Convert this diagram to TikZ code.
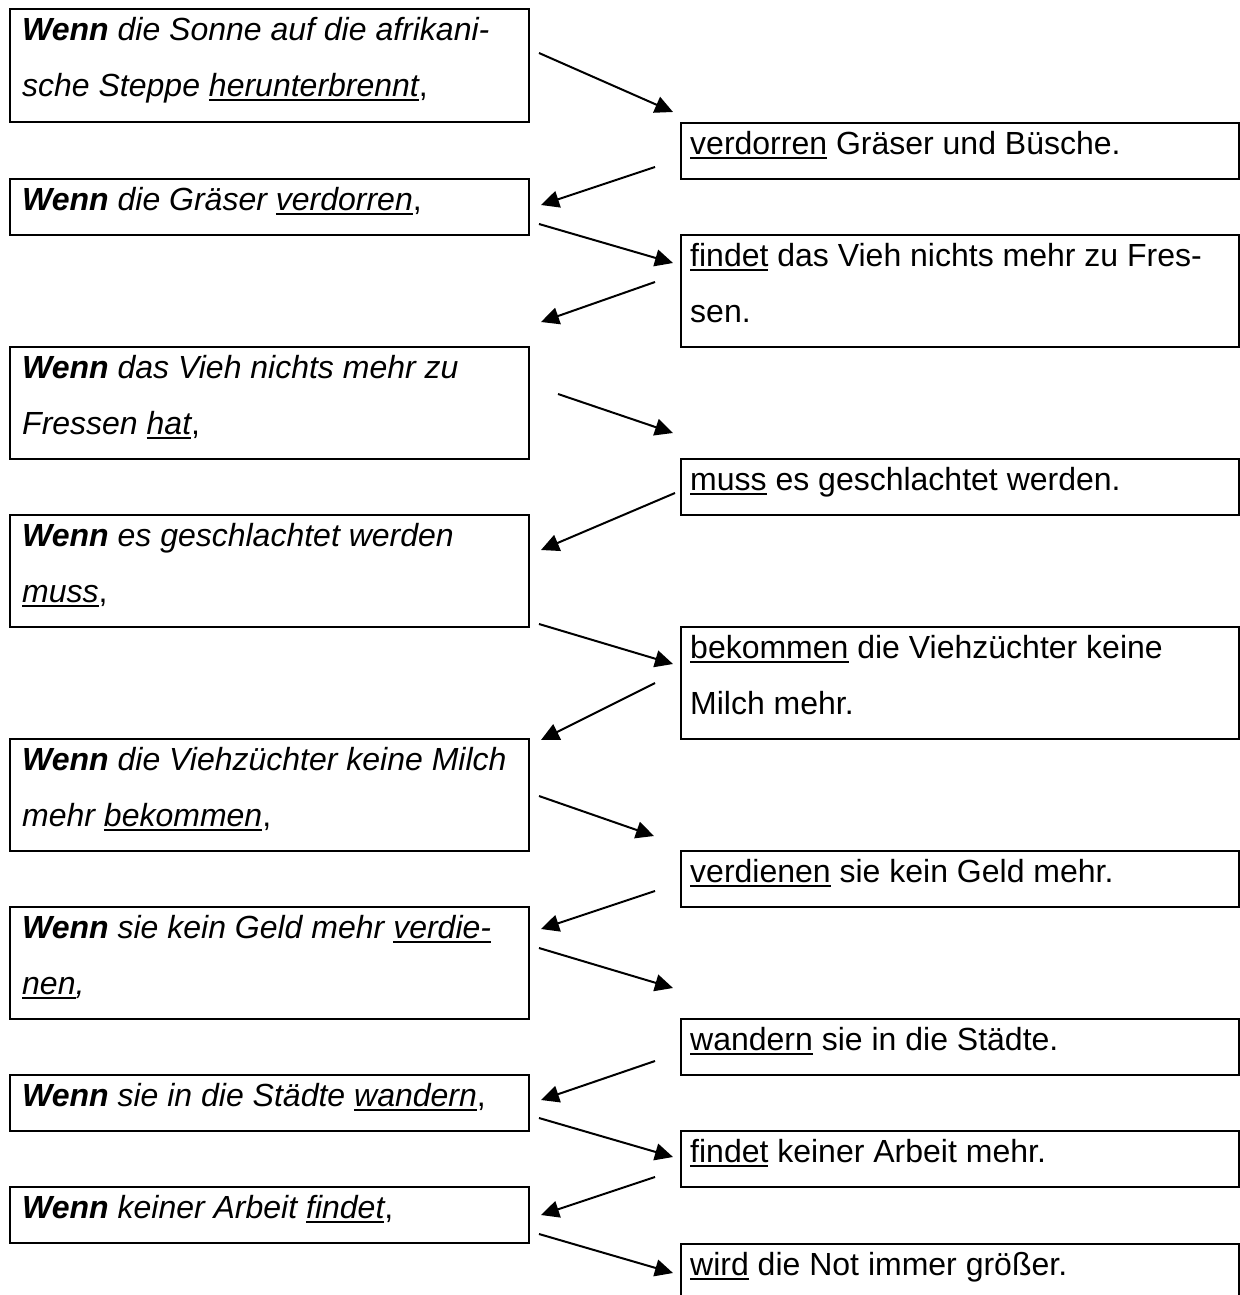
\documentclass[tikz,border=0pt]{standalone}
\usepackage{fontspec}
\setmainfont{Liberation Sans}
\usetikzlibrary{arrows.meta}
\newcommand\myul[1]{\setbox0\hbox{#1}\rlap{\rule[-5pt]{\wd0}{2.6pt}}\box0\relax}
\newcommand\fr{\rule{0pt}{32pt}}
\tikzset{
  box/.style={draw, line width=2pt, anchor=north west, minimum width=519pt, inner sep=0pt},
  rbox/.style={draw, line width=2pt, anchor=north west, minimum width=558pt, inner sep=0pt},
  ltxt/.style={anchor=north west, inner sep=0pt, align=left, font=\itshape\fontsize{32}{56}\selectfont},
  rtxt/.style={anchor=north west, inner sep=0pt, align=left, font=\fontsize{32}{56}\selectfont},
  arr/.style={line width=2pt, -{Triangle[length=18pt,width=17pt]}}
}
\begin{document}
\begin{tikzpicture}[x=1pt,y=-1pt]
\useasboundingbox[fill=white] (0,0) rectangle (1239,1295);
% left boxes
\node[box, minimum height=113pt] (L1) at (9,8) {};
\node[box, minimum height=56pt] (L2) at (9,178) {};
\node[box, minimum height=112pt] (L3) at (9,346) {};
\node[box, minimum height=112pt] (L4) at (9,514) {};
\node[box, minimum height=112pt] (L5) at (9,738) {};
\node[box, minimum height=112pt] (L6) at (9,906) {};
\node[box, minimum height=56pt] (L7) at (9,1074) {};
\node[box, minimum height=56pt] (L8) at (9,1186) {};
% right boxes
\node[rbox, minimum height=56pt] (R1) at (680,122) {};
\node[rbox, minimum height=112pt] (R2) at (680,234) {};
\node[rbox, minimum height=56pt] (R3) at (680,458) {};
\node[rbox, minimum height=112pt] (R4) at (680,626) {};
\node[rbox, minimum height=56pt] (R5) at (680,850) {};
\node[rbox, minimum height=56pt] (R6) at (680,1018) {};
\node[rbox, minimum height=56pt] (R7) at (680,1130) {};
\node[rbox, minimum height=80pt] (R8) at (680,1243) {};
% left texts
\node[ltxt] (L1t) at ([xshift=13pt]L1.north west) {\fr\textbf{Wenn} die Sonne auf die afrikani-\\sche Steppe \myul{herunterbrennt}\upshape,};
\node[ltxt] (L2t) at ([xshift=13pt]L2.north west) {\fr\textbf{Wenn} die Gräser \myul{verdorren}\upshape,};
\node[ltxt] (L3t) at ([xshift=13pt]L3.north west) {\fr\textbf{Wenn} das Vieh nichts mehr zu\\Fressen \myul{hat}\upshape,};
\node[ltxt] (L4t) at ([xshift=13pt]L4.north west) {\fr\textbf{Wenn} es geschlachtet werden\\\myul{muss}\upshape,};
\node[ltxt] (L5t) at ([xshift=13pt]L5.north west) {\fr\textbf{Wenn} die Viehzüchter keine Milch\\mehr \myul{bekommen}\upshape,};
\node[ltxt] (L6t) at ([xshift=13pt]L6.north west) {\fr\textbf{Wenn} sie kein Geld mehr \myul{verdie-}\\\myul{nen},};
\node[ltxt] (L7t) at ([xshift=13pt]L7.north west) {\fr\textbf{Wenn} sie in die Städte \myul{wandern}\upshape,};
\node[ltxt] (L8t) at ([xshift=13pt]L8.north west) {\fr\textbf{Wenn} keiner Arbeit \myul{findet}\upshape,};
% right texts
\node[rtxt] (R1t) at ([xshift=10pt]R1.north west) {\fr\myul{verdorren} Gräser und Büsche.};
\node[rtxt] (R2t) at ([xshift=10pt]R2.north west) {\fr\myul{findet} das Vieh nichts mehr zu Fres-\\sen.};
\node[rtxt] (R3t) at ([xshift=10pt]R3.north west) {\fr\myul{muss} es geschlachtet werden.};
\node[rtxt] (R4t) at ([xshift=10pt]R4.north west) {\fr\myul{bekommen} die Viehzüchter keine\\Milch mehr.};
\node[rtxt] (R5t) at ([xshift=10pt]R5.north west) {\fr\myul{verdienen} sie kein Geld mehr.};
\node[rtxt] (R6t) at ([xshift=10pt]R6.north west) {\fr\myul{wandern} sie in die Städte.};
\node[rtxt] (R7t) at ([xshift=10pt]R7.north west) {\fr\myul{findet} keiner Arbeit mehr.};
\node[rtxt] (R8t) at ([xshift=10pt]R8.north west) {\fr\myul{wird} die Not immer größer.};
% arrow end points
\coordinate (a1s) at (539,53);   \coordinate (a1e) at (673,112);
\coordinate (a2s) at (655,167);  \coordinate (a2e) at (541,205);
\coordinate (a3s) at (539,224);  \coordinate (a3e) at (673,263);
\coordinate (a4s) at (655,282);  \coordinate (a4e) at (541,322);
\coordinate (a5s) at (558,394);  \coordinate (a5e) at (673,433);
\coordinate (a6s) at (675,493);  \coordinate (a6e) at (541,550);
\coordinate (a7s) at (539,624);  \coordinate (a7e) at (673,664);
\coordinate (a8s) at (655,683);  \coordinate (a8e) at (541,740);
\coordinate (a9s) at (539,796);  \coordinate (a9e) at (654,836);
\coordinate (a10s) at (655,891); \coordinate (a10e) at (541,929);
\coordinate (a11s) at (539,948); \coordinate (a11e) at (673,988);
\coordinate (a12s) at (655,1061);\coordinate (a12e) at (541,1100);
\coordinate (a13s) at (539,1118);\coordinate (a13e) at (673,1157);
\coordinate (a14s) at (655,1177);\coordinate (a14e) at (541,1215);
\coordinate (a15s) at (539,1234);\coordinate (a15e) at (673,1273);
\foreach \i in {1,...,15} { \draw[arr] (a\i s) -- (a\i e); }
\end{tikzpicture}
\end{document}
